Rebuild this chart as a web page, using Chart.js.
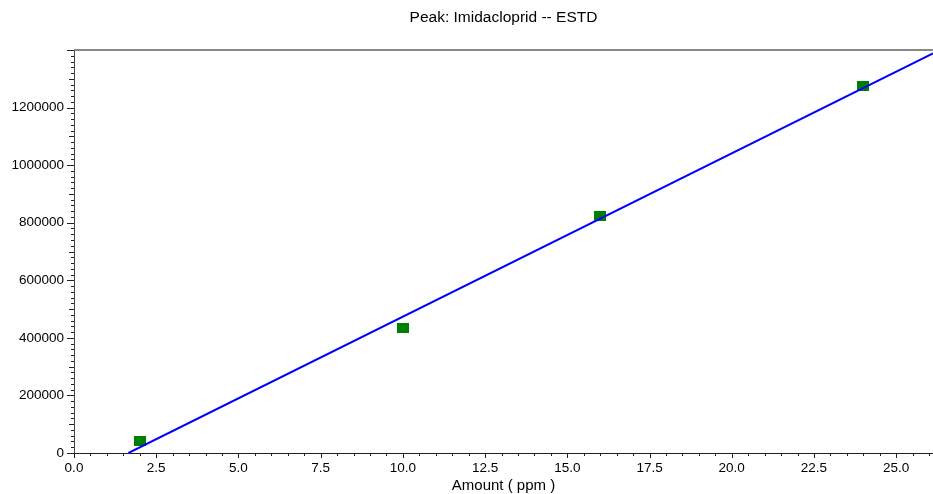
<!DOCTYPE html>
<html lang="en">
<head>
    <meta charset="UTF-8">
    <title>Peak: Imidacloprid -- ESTD</title>
    <script src="https://cdn.jsdelivr.net/npm/chart.js"></script>
    <style>
        html, body { margin: 0; padding: 0; background: #fff; overflow: hidden; }
        #wrap { width: 933px; height: 494px; }
    </style>
</head>
<body>
    <div id="wrap"><canvas id="calChart"></canvas></div>

    <script>
        // calibration levels
        const amounts = [2, 10, 16, 24];
        const areas = [40000, 435000, 825000, 1275000];

        const xMin = 0, xMax = 26.12, xStep = 2.5, xMinor = 0.5;
        const yMin = 0, yMax = 1400000, yStep = 200000, yMinor = 20000;

        const titleText = "Peak: Imidacloprid -- ESTD";
        const xTitle = "Amount ( ppm )";
        const fontFamily = "'Liberation Sans', Arial, sans-serif";

        // least squares line through the levels
        function linearFit(xs, ys) {
            let n = xs.length;
            let mx = xs.reduce((a, b) => a + b, 0) / n;
            let my = ys.reduce((a, b) => a + b, 0) / n;
            let sxy = 0, sxx = 0;
            for (let i = 0; i < n; i++) {
                sxy += (xs[i] - mx) * (ys[i] - my);
                sxx += (xs[i] - mx) * (xs[i] - mx);
            }
            let slope = sxy / sxx;
            return { slope: slope, intercept: my - slope * mx };
        }

        let fit = linearFit(amounts, areas);
        let x0 = -fit.intercept / fit.slope;
        let fitLine = [
            { x: x0, y: 0 },
            { x: xMax, y: fit.slope * xMax + fit.intercept }
        ];

        let points = amounts.map((a, i) => ({ x: a, y: areas[i] }));

        // square marker
        let marker = document.createElement("canvas");
        marker.width = 12;
        marker.height = 10;
        let mctx = marker.getContext("2d");
        mctx.fillStyle = "#008000";
        mctx.fillRect(0, 0, 12, 10);

        function isMultiple(v, step) {
            let r = v / step;
            return Math.abs(r - Math.round(r)) < 1e-6;
        }

        const decorations = {
            id: "decorations",
            afterDraw(chart) {
                let ctx = chart.ctx;
                let area = chart.chartArea;
                let xs = chart.scales.x, ys = chart.scales.y;
                ctx.save();

                // top frame line
                ctx.strokeStyle = "#888";
                ctx.lineWidth = 2;
                ctx.beginPath();
                ctx.moveTo(area.left, area.top);
                ctx.lineTo(area.right, area.top);
                ctx.stroke();

                ctx.strokeStyle = "#222";
                ctx.lineWidth = 1;
                ctx.beginPath();
                // y ticks
                for (let v = yMin; v <= yMax + 1; v += yMinor) {
                    let py = Math.round(ys.getPixelForValue(v)) + 0.5;
                    let len = isMultiple(v, yStep) ? 7 : (isMultiple(v, yStep / 2) ? 5 : 3);
                    ctx.moveTo(area.left - len, py);
                    ctx.lineTo(area.left, py);
                }
                // x ticks
                for (let v = xMin; v <= xMax; v += xMinor) {
                    let px = Math.round(xs.getPixelForValue(v)) + 0.5;
                    let len = isMultiple(v, xStep) ? 5 : 3;
                    ctx.moveTo(px, area.bottom);
                    ctx.lineTo(px, area.bottom + len);
                }
                ctx.stroke();

                // titles
                ctx.fillStyle = "#000";
                ctx.textAlign = "center";
                ctx.textBaseline = "middle";
                let cx = (area.left + area.right) / 2;
                ctx.font = "15.5px " + fontFamily;
                ctx.fillText(titleText, cx, 18);
                ctx.font = "15px " + fontFamily;
                ctx.fillText(xTitle, cx, 486);
                ctx.restore();
            }
        };

        new Chart(document.getElementById("calChart"), {
            type: "scatter",
            data: {
                datasets: [
                    {
                        label: "Calibration curve",
                        data: fitLine,
                        showLine: true,
                        borderColor: "#0000ff",
                        borderWidth: 2,
                        pointRadius: 0,
                        order: 0
                    },
                    {
                        label: "Levels",
                        data: points,
                        pointStyle: marker,
                        pointRadius: 6,
                        order: 1
                    }
                ]
            },
            options: {
                responsive: true,
                maintainAspectRatio: false,
                animation: false,
                layout: {
                    autoPadding: false,
                    padding: { top: 50, left: 0, right: 0, bottom: 0 }
                },
                plugins: {
                    legend: { display: false },
                    title: { display: false },
                    tooltip: { enabled: false }
                },
                scales: {
                    x: {
                        type: "linear",
                        min: xMin,
                        max: xMax,
                        grid: { display: false, drawTicks: false },
                        border: { display: true, color: "#222", width: 1 },
                        ticks: {
                            stepSize: xStep,
                            includeBounds: false,
                            autoSkip: false,
                            maxRotation: 0,
                            padding: 7,
                            color: "#000",
                            font: { family: fontFamily, size: 13.5 },
                            callback: v => isMultiple(v, xStep) ? v.toFixed(1) : ""
                        },
                        afterFit(scale) {
                            scale.height = 41;
                            scale.paddingLeft = 0;
                            scale.paddingRight = 0;
                        }
                    },
                    y: {
                        type: "linear",
                        min: yMin,
                        max: yMax,
                        grid: { display: false, drawTicks: false },
                        border: { display: true, color: "#444", width: 1 },
                        ticks: {
                            stepSize: yStep,
                            padding: 10,
                            color: "#000",
                            font: { family: fontFamily, size: 13.5 },
                            callback: v => v >= yMax ? "" : String(v)
                        },
                        afterFit(scale) {
                            scale.width = 74;
                            scale.paddingTop = 0;
                            scale.paddingBottom = 0;
                        }
                    }
                }
            },
            plugins: [decorations]
        });
    </script>
</body>
</html>
